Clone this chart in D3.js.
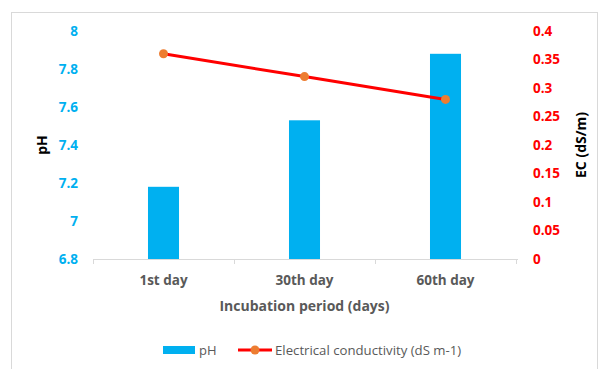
<!DOCTYPE html>
<html><head><meta charset="utf-8">
<script src="https://cdn.jsdelivr.net/npm/d3@7"></script>
<style>body{margin:0;background:#fff;} svg{display:block;font-family:"Open Sans",sans-serif;}</style>
</head><body>
<svg id="c" width="599" height="369"></svg>
<script>
const categories = ["1st day", "30th day", "60th day"];
const phValues = [7.18, 7.53, 7.88];
const ecValues = [0.36, 0.32, 0.28];
const phTicks = [6.8, 7, 7.2, 7.4, 7.6, 7.8, 8];
const ecTicks = [0, 0.05, 0.1, 0.15, 0.2, 0.25, 0.3, 0.35, 0.4];

const svg = d3.select("#c");
const L = 93, R = 516, T = 31, B = 259;
svg.append("rect").attr("x", 11.5).attr("y", 12.5).attr("width", 586).attr("height", 360)
  .attr("fill", "#fff").attr("stroke", "#d9d9d9");

const x = d3.scaleBand().domain(categories).range([L, R]);
const yL = d3.scaleLinear().domain([6.8, 8]).range([B, T]);
const yR = d3.scaleLinear().domain([0, 0.4]).range([B, T]);
const bw = x.bandwidth() * 0.22;

svg.selectAll("rect.bar").data(categories).join("rect").attr("class", "bar")
  .attr("x", d => x(d) + x.bandwidth() / 2 - bw / 2)
  .attr("y", (d, i) => yL(phValues[i]))
  .attr("width", bw)
  .attr("height", (d, i) => B - yL(phValues[i]))
  .attr("fill", "#00B0F0");

// x axis
const xa = svg.append("g");
xa.append("line").attr("x1", L).attr("x2", R + 2).attr("y1", B + 0.5).attr("y2", B + 0.5).attr("stroke", "#d9d9d9");
const bounds = [L, ...categories.map(c => x(c) + x.bandwidth())];
xa.selectAll("line.t").data(bounds).join("line").attr("class", "t")
  .attr("x1", d => Math.round(d) + 0.5).attr("x2", d => Math.round(d) + 0.5)
  .attr("y1", B).attr("y2", B + 5).attr("stroke", "#d9d9d9");
xa.selectAll("text").data(categories).join("text")
  .attr("x", d => x(d) + x.bandwidth() / 2).attr("y", B + 26)
  .attr("text-anchor", "middle").attr("fill", "#595959")
  .attr("font-size", 13.5).attr("font-weight", "bold").text(d => d);

// left ticks
svg.append("g").selectAll("text").data(phTicks).join("text")
  .attr("x", 78).attr("y", d => yL(d) + 4.5).attr("text-anchor", "end")
  .attr("fill", "#00B0F0").attr("font-size", 13.5).attr("font-weight", "bold").text(d => d);
// right ticks
svg.append("g").selectAll("text").data(ecTicks).join("text")
  .attr("x", 533).attr("y", d => yR(d) + 4.5).attr("text-anchor", "start")
  .attr("fill", "#FF0000").attr("font-size", 13.5).attr("font-weight", "bold").text(d => d);

// line
const line = d3.line().x((d, i) => x(categories[i]) + x.bandwidth() / 2).y(d => yR(d));
svg.append("path").datum(ecValues).attr("d", line).attr("fill", "none")
  .attr("stroke", "#FF0000").attr("stroke-width", 3).attr("stroke-linecap", "round");
svg.selectAll("circle.m").data(ecValues).join("circle").attr("class", "m")
  .attr("cx", (d, i) => x(categories[i]) + x.bandwidth() / 2).attr("cy", d => yR(d))
  .attr("r", 4.5).attr("fill", "#ED7D31");

// titles
svg.append("text").attr("transform", `translate(47,${(T + B) / 2}) rotate(-90)`)
  .attr("text-anchor", "middle").attr("font-size", 14).attr("font-weight", "bold")
  .attr("fill", "#000").text("pH");
svg.append("text").attr("transform", `translate(586,${(T + B) / 2}) rotate(-90)`)
  .attr("text-anchor", "middle").attr("font-size", 14).attr("font-weight", "bold")
  .attr("fill", "#000").text("EC (dS/m)");
svg.append("text").attr("x", (L + R) / 2).attr("y", 311).attr("text-anchor", "middle")
  .attr("font-size", 14).attr("font-weight", "bold").attr("fill", "#595959")
  .text("Incubation period (days)");

// legend
const lg = svg.append("g");
lg.append("rect").attr("x", 163).attr("y", 346).attr("width", 32).attr("height", 8).attr("fill", "#00B0F0");
lg.append("text").attr("x", 199).attr("y", 355).attr("font-size", 13).attr("fill", "#595959").text("pH");
lg.append("line").attr("x1", 238).attr("x2", 272).attr("y1", 350).attr("y2", 350).attr("stroke", "#FF0000").attr("stroke-width", 3);
lg.append("circle").attr("cx", 255).attr("cy", 350).attr("r", 4.5).attr("fill", "#ED7D31");
lg.append("text").attr("x", 275).attr("y", 355).attr("font-size", 13.2).attr("fill", "#595959").text("Electrical conductivity (dS m-1)");
</script>
</body></html>
